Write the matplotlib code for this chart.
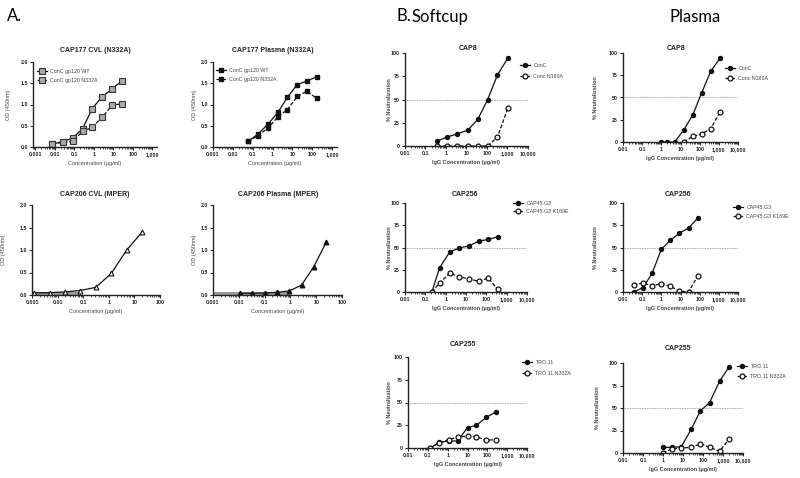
import numpy as np
import matplotlib.pyplot as plt
from matplotlib.ticker import FixedLocator, LogLocator, NullFormatter

plt.rcParams['font.family'] = ['Liberation Sans', 'DejaVu Sans']

# ---- data ------------------------------------------------------------------
# A. CAP177 CVL (N332A)
cvl177_x = [0.0076, 0.025, 0.082, 0.27, 0.82, 2.7, 8.9, 29]
cvl177_wt = [0.07, 0.125, 0.21, 0.43, 0.90, 1.18, 1.37, 1.56]
cvl177_mut = [0.07, 0.11, 0.13, 0.37, 0.46, 0.70, 0.98, 1.02]
# A. CAP177 Plasma (N332A)
pl177_x = [0.06, 0.19, 0.6, 1.9, 5.6, 17.8, 52, 165]
pl177_wt = [0.13, 0.31, 0.54, 0.82, 1.17, 1.47, 1.55, 1.65]
pl177_mut = [0.13, 0.27, 0.45, 0.71, 0.88, 1.19, 1.31, 1.15]
# A. CAP206 CVL (MPER)
cvl206_x = [0.00122, 0.0049, 0.0195, 0.078, 0.31, 1.25, 5.0, 20]
cvl206_y = [0.05, 0.05, 0.07, 0.10, 0.17, 0.48, 1.0, 1.4]
# A. CAP206 Plasma (MPER)
pl206_x = [0.011, 0.033, 0.1, 0.3, 0.9, 2.7, 8.1, 24.3]
pl206_y = [0.04, 0.04, 0.045, 0.06, 0.09, 0.22, 0.63, 1.17]

# B. CAP8
sc8_x = [0.37, 1.17, 3.5, 11.5, 35, 108, 325, 1050]
sc8_conc = [5.4, 9.7, 13, 17, 28.5, 50, 76.5, 94.6]
sc8_n160a = [0, 0, 0, 0, 0, 0, 9.7, 41]
pl8_x = [1, 2.07, 5, 15, 44, 125, 380, 1170]
pl8_conc = [0, 0, 0, 13.8, 30.5, 55, 79.5, 94.4]
pl8_n160a_x = [15, 44, 125, 380, 1170]
pl8_n160a = [0, 6.3, 9, 15, 34]
# B. CAP256
sc256_x = [0.21, 0.5, 1.58, 4.6, 14.7, 43, 126, 355]
sc256_g3 = [0, 27, 45, 49.4, 52, 57.3, 59, 62]
sc256_k169e = [0, 10, 21.3, 17, 14.6, 12, 15.7, 3]
pl256_x = [0.036, 0.11, 0.33, 1, 2.95, 8.7, 26.6, 79]
pl256_g3 = [0, 4.9, 21, 48, 58, 66, 72, 83]
pl256_k169e = [8.2, 10, 7, 9.4, 6.4, 1, 0, 18]
# B. CAP255
sc255_x = [0.13, 0.38, 1.12, 3.2, 10, 28, 89, 260]
sc255_tro = [0, 6.3, 7.7, 7.7, 22.5, 25, 33.6, 39.5]
sc255_n332a = [0, 5.5, 9.2, 12, 13, 12.5, 8.5, 9.2]
pl255_x = [1, 2.8, 8.2, 26, 73, 214, 680, 2000]
pl255_tro = [6.25, 6.25, 7, 26.5, 46.7, 56, 80, 95.6]
pl255_n332a = [0, 4.8, 5.5, 6.3, 10, 6.3, 2, 15.4]

xt_a = [0.001, 0.01, 0.1, 1, 10, 100, 1000]
xt_a_lab = ['0.001', '0.01', '0.1', '1', '10', '100', '1,000']
xt_b = [0.01, 0.1, 1, 10, 100, 1000, 10000]
xt_b_lab = ['0.01', '0.1', '1', '10', '100', '1,000', '10,000']
yt_a = [0, 0.5, 1.0, 1.5, 2.0]
yt_a_lab = ['0.0', '0.5', '1.0', '1.5', '2.0']
yt_b = [0, 25, 50, 75, 100]

W, H = 800, 478
fig = plt.figure(figsize=(W / 100, H / 100), dpi=100)

FS = 3.8


def add_ax(l, r, t, b):
    return fig.add_axes([l / W, 1 - b / H, (r - l) / W, (b - t) / H])


def style(ax, xlim, xt, xtl, ylim, yt, ytl, xlabel, ylabel, ylab_px, bold):
    ax.set_xscale('log')
    ax.set_xlim(*xlim)
    ax.set_ylim(*ylim)
    ax.xaxis.set_major_locator(FixedLocator(xt))
    ax.set_xticklabels(xtl)
    ax.xaxis.set_minor_locator(LogLocator(base=10, subs=np.arange(2, 10)))
    ax.xaxis.set_minor_formatter(NullFormatter())
    ax.set_yticks(yt)
    ax.set_yticklabels(ytl)
    for s in ['top', 'right']:
        ax.spines[s].set_visible(False)
    for s in ['left', 'bottom']:
        ax.spines[s].set_linewidth(1.0)
        ax.spines[s].set_color('#222222')
    ax.tick_params(which='major', length=2.2, width=0.7, pad=1.5,
                   labelsize=FS, colors='#222222')
    ax.tick_params(which='minor', length=1.2, width=0.5)
    for lab in ax.get_xticklabels() + ax.get_yticklabels():
        lab.set_fontweight('bold')
    w = 'bold' if bold else 'normal'
    ax.set_xlabel(xlabel, fontsize=4, color='#444444', fontweight=w,
                  labelpad=3)
    ax.set_ylabel(ylabel, fontsize=4, color='#444444', fontweight=w)
    bb = ax.get_position()
    ax.yaxis.set_label_coords((ylab_px / W - bb.x0) / bb.width, 0.5)
    ax.patch.set_alpha(0)


def title(x, y, s):
    fig.text(x / W, 1 - y / H, s, fontsize=5, fontweight='bold',
             ha='center', va='center', color='#222222')


def leg(ax, xm, y1, spacing=11):
    fs_px = FS * 100 / 72
    hl = 2.0
    left = xm - hl * fs_px / 2
    top = y1 - fs_px * 0.75
    ax.legend(loc='upper left', bbox_to_anchor=(left / W, 1 - top / H),
              bbox_transform=fig.transFigure, frameon=False, fontsize=FS,
              handlelength=hl, handletextpad=0.6, borderpad=0,
              borderaxespad=0, labelspacing=(spacing - fs_px * 1.2) / fs_px,
              labelcolor='#444444')


solid = dict(color='#111111', lw=0.9)
dash = dict(color='#111111', lw=0.9, ls=(0, (3, 1.5)))

# ---- panel A ----------------------------------------------------------------
ax = add_ax(33, 157, 62, 147)
ax.plot(cvl177_x, cvl177_wt, marker='s', ms=3.8, mfc='#aaaaaa', mec='#333333',
        mew=0.8, label='ConC gp120 WT', **solid)
ax.plot(cvl177_x, cvl177_mut, marker='s', ms=3.8, mfc='#aaaaaa',
        mec='#333333', mew=0.8, label='ConC gp120 N332A', **dash)
style(ax, (10 ** -3.12, 10 ** 3.25), xt_a, xt_a_lab, (0, 2.0), yt_a, yt_a_lab,
      'Concentration (µg/ml)', 'OD (450nm)', 11, False)
leg(ax, 42, 73, 10)
title(95, 51, 'CAP177 CVL (N332A)')

ax = add_ax(213, 337, 62, 147)
ax.plot(pl177_x, pl177_wt, marker='s', ms=3.5, mfc='#111111', mec='#111111',
        label='ConC gp120 WT', **solid)
ax.plot(pl177_x, pl177_mut, marker='s', ms=3.5, mfc='#111111', mec='#111111',
        label='ConC gp120 N332A', **dash)
style(ax, (0.001, 10 ** 3.25), xt_a, xt_a_lab, (0, 2.0), yt_a, yt_a_lab,
      'Concentration (µg/ml)', 'OD (450nm)', 197, False)
leg(ax, 221, 72, 10)
title(273, 50, 'CAP177 Plasma (N332A)')

ax = add_ax(32, 160, 205, 295)
ax.fill_between([0.001, 0.08], 0, 0.06, color='#999999', lw=0)
ax.plot(cvl206_x, cvl206_y, marker='^', ms=3.5, mfc='white', mec='#111111',
        mew=0.8, **solid)
style(ax, (0.001, 100), xt_a[:6], xt_a_lab[:6], (0, 2.0), yt_a, yt_a_lab,
      'Concentration (µg/ml)', 'OD (450nm)', 6, False)
title(95, 194, 'CAP206 CVL (MPER)')

ax = add_ax(213, 342, 205, 295)
ax.fill_between([0.001, 1.0], 0, 0.06, color='#999999', lw=0)
ax.plot(pl206_x, pl206_y, marker='^', ms=3.3, mfc='#111111', mec='#111111',
        **solid)
style(ax, (0.001, 100), xt_a[:6], xt_a_lab[:6], (0, 2.0), yt_a, yt_a_lab,
      'Concentration (µg/ml)', 'OD (450nm)', 197, False)
title(278, 194, 'CAP206 Plasma (MPER)')


# ---- panel B ----------------------------------------------------------------
def neut(l, r, t, b, x1, y1, l1, x2, y2, l2, ylab_px):
    ax = add_ax(l, r, t, b)
    ax.axhline(50, color='#888888', lw=0.6, ls=(0, (1, 1)))
    ax.plot(x1, y1, marker='o', ms=2.9, mfc='#111111', mec='#111111',
            label=l1, **solid)
    ax.plot(x2, y2, marker='o', ms=3.5, mfc='white', mec='#111111', mew=0.9,
            label=l2, **dash)
    style(ax, (0.01, 10000), xt_b, xt_b_lab, (0, 100), yt_b,
          [str(v) for v in yt_b], 'IgG Concentration (µg/ml)',
          '% Neutralization', ylab_px, True)
    return ax


ax = neut(405, 528, 53, 146, sc8_x, sc8_conc, 'ConC', sc8_x, sc8_n160a,
          'Conc N160A', 392)
leg(ax, 525, 67, 12)
title(468, 49, 'CAP8')

ax = neut(623, 738, 53, 142, pl8_x, pl8_conc, 'ConC', pl8_n160a_x, pl8_n160a,
          'Conc N160A', 598)
leg(ax, 730, 70, 11)
title(676, 49, 'CAP8')

ax = neut(405, 527, 203, 292, sc256_x, sc256_g3, 'CAP45.G3', sc256_x,
          sc256_k169e, 'CAP45.G3 K169E', 392)
leg(ax, 518, 205, 9)
title(465, 195, 'CAP256')

ax = neut(623, 738, 203, 292, pl256_x, pl256_g3, 'CAP45.G3', pl256_x,
          pl256_k169e, 'CAP45.G3 K169E', 598)
leg(ax, 738, 209, 10)
title(678, 195, 'CAP256')

ax = neut(408, 527, 357, 448, sc255_x, sc255_tro, 'TRO.11', sc255_x,
          sc255_n332a, 'TRO.11 N332A', 392)
leg(ax, 527, 364, 12)
title(463, 344, 'CAP255')

ax = neut(623, 743, 363, 453, pl255_x, pl255_tro, 'TRO.11', pl255_x,
          pl255_n332a, 'TRO.11 N332A', 600)
leg(ax, 742, 368, 11)
title(678, 349, 'CAP255')

# ---- panel letters / headers -------------------------------------------------
big = ['Lato', 'DejaVu Sans']
fig.text(7 / W, 1 - 16 / H, 'A.', fontsize=12, family=big, va='center')
fig.text(397 / W, 1 - 16 / H, 'B.', fontsize=12, family=big, va='center')
fig.text(440 / W, 1 - 17 / H, 'Softcup', fontsize=12, family=big,
         ha='center', va='center')
fig.text(695 / W, 1 - 17 / H, 'Plasma', fontsize=12, family=big,
         ha='center', va='center')

fig.savefig('out.png', dpi=100)
